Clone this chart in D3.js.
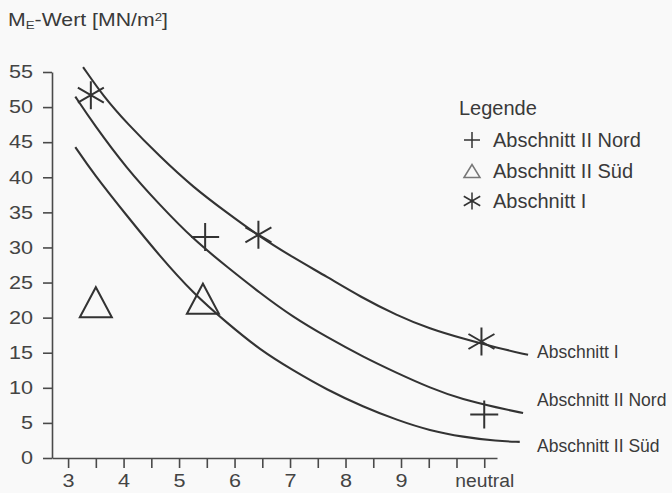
<!DOCTYPE html>
<html>
<head>
<meta charset="utf-8">
<script src="https://cdn.jsdelivr.net/npm/d3@7"></script>
<style>
  body { margin: 0; background: #f9f9f9; }
  svg { display: block; font-family: "Liberation Sans", Arial, sans-serif; }
  .axis path, .axis line { stroke: #4a4a4a; stroke-width: 1.6; }
  .axis text { fill: #444; font-size: 18px; }
</style>
</head>
<body>
<svg width="672" height="493"></svg>
<script>
// Data
var xTicks = [3, 3.5, 4, 4.5, 5, 5.5, 6, 6.5, 7, 7.5, 8, 8.5, 9, 9.5, 10, 10.5];
var xTickLabels = {3: "3", 4: "4", 5: "5", 6: "6", 7: "7", 8: "8", 9: "9", 10.5: "neutral"};
var yTicks = [0, 5, 10, 15, 20, 25, 30, 35, 40, 45, 50, 55];

// fitted curves
var curveIx = [3.27, 3.64, 4.06, 4.66, 5.25, 5.87, 6.46, 7.05, 7.67, 8.26, 8.93, 9.52, 10.12, 10.73, 11.29];
var curveIy = [55.7, 51.5, 47.7, 42.9, 38.6, 34.9, 31.5, 28.6, 25.8, 23.0, 20.3, 18.4, 17.0, 15.7, 14.7];
var curveNordx = [3.13, 3.45, 4.06, 4.66, 5.25, 5.87, 6.46, 7.05, 7.67, 8.32, 8.93, 9.52, 10.12, 10.73, 11.2];
var curveNordy = [51.5, 47.7, 41.2, 36.0, 31.2, 27.2, 23.5, 20.1, 17.2, 14.4, 12.1, 10.0, 8.3, 7.2, 6.4];
var curveSuedx = [3.13, 3.45, 4.06, 4.66, 5.25, 5.87, 6.46, 7.05, 7.67, 8.32, 8.93, 9.52, 10.12, 10.73, 11.14];
var curveSuedy = [44.3, 40.6, 34.5, 28.7, 23.5, 19.2, 15.4, 12.5, 9.7, 7.3, 5.4, 3.9, 3.0, 2.4, 2.3];

// measured points
var nordX = [5.47, 10.5], nordY = [31.5, 6.2];
var suedX = [3.5, 5.43], suedY = [22.2, 22.7];
var abschnittIX = [3.41, 6.43, 10.45], abschnittIY = [51.7, 31.8, 16.6];

var curveNames = ["Abschnitt I", "Abschnitt II Nord", "Abschnitt II Süd"];
var legendNames = ["Abschnitt II Nord", "Abschnitt II Süd", "Abschnitt I"];

var svg = d3.select("svg");
var ink = "#333";

var x = d3.scaleLinear().domain([2.71, 10.73]).range([52, 497]);
var y = d3.scaleLinear().domain([0, 55]).range([458, 72]);

// axes
svg.append("g")
  .attr("class", "axis")
  .attr("transform", "translate(0,458)")
  .call(d3.axisBottom(x).tickValues(xTicks).tickSize(10).tickSizeOuter(0).tickPadding(6)
    .tickFormat(function (d) { return xTickLabels[d] || ""; }));

svg.append("g")
  .attr("class", "axis")
  .attr("transform", "translate(52,0)")
  .call(d3.axisLeft(y).tickValues(yTicks).tickSize(9).tickSizeOuter(0).tickPadding(10));

// the tick figures in the original are set wider
svg.selectAll(".axis text").each(function () {
  var w = this.getComputedTextLength();
  if (!w) return;
  var k = this.textContent === "neutral" ? 1.07 : 1.2;
  this.setAttribute("textLength", w * k);
  this.setAttribute("lengthAdjust", "spacingAndGlyphs");
});

// curves
var line = d3.line()
  .x(function (d) { return x(d[0]); })
  .y(function (d) { return y(d[1]); })
  .curve(d3.curveBasis);

var curves = [
  d3.zip(curveIx, curveIy),
  d3.zip(curveNordx, curveNordy),
  d3.zip(curveSuedx, curveSuedy)
];

svg.append("g").selectAll("path")
  .data(curves)
  .enter()
  .append("path")
    .attr("d", line)
    .attr("fill", "none")
    .attr("stroke", ink)
    .attr("stroke-width", 2.1);

// curve labels at the right
svg.append("g").selectAll("text")
  .data(curves)
  .enter()
  .append("text")
    .attr("x", 537)
    .attr("y", function (d, i) { return [358, 406, 452][i]; })
    .attr("fill", "#3a3a3a")
    .style("font-size", "17.5px")
    .text(function (d, i) { return curveNames[i]; });

// marker shapes
function plusPath(s) {
  return "M" + (-s) + ",0H" + s + "M0," + (-s) + "V" + s;
}
function triPath(w, h) {
  return "M" + (-w / 2) + "," + (h / 2) + "L0," + (-h / 2) + "L" + (w / 2) + "," + (h / 2) + "Z";
}
function starPath(v, s) {
  var a = Math.PI / 6, dx = s * Math.cos(a), dy = s * Math.sin(a);
  return "M0," + (-v) + "V" + v +
    "M" + (-dx) + "," + dy + "L" + dx + "," + (-dy) +
    "M" + (-dx) + "," + (-dy) + "L" + dx + "," + dy;
}

var marks = svg.append("g")
  .attr("fill", "none")
  .attr("stroke", ink)
  .attr("stroke-width", 2);

marks.selectAll(".nord")
  .data(d3.zip(nordX, nordY))
  .enter().append("path")
    .attr("class", "nord")
    .attr("transform", function (d) { return "translate(" + x(d[0]) + "," + y(d[1]) + ")"; })
    .attr("d", plusPath(14));

marks.selectAll(".sued")
  .data(d3.zip(suedX, suedY))
  .enter().append("path")
    .attr("class", "sued")
    .attr("transform", function (d) { return "translate(" + x(d[0]) + "," + y(d[1]) + ")"; })
    .attr("d", triPath(32, 30));

marks.selectAll(".abs1")
  .data(d3.zip(abschnittIX, abschnittIY))
  .enter().append("path")
    .attr("class", "abs1")
    .attr("transform", function (d) { return "translate(" + x(d[0]) + "," + y(d[1]) + ")"; })
    .attr("d", starPath(14, 15));

// title
var title = svg.append("text")
  .attr("x", 8)
  .attr("y", 26)
  .attr("fill", "#3a3a3a")
  .style("font-size", "17.5px");
title.append("tspan").text("M");
title.append("tspan").attr("baseline-shift", "-3").style("font-size", "11px").text("E");
title.append("tspan").text("-Wert [MN/m");
title.append("tspan").attr("baseline-shift", "5").style("font-size", "11px").text("2");
title.append("tspan").text("]");
title.attr("textLength", 160)
  .attr("lengthAdjust", "spacingAndGlyphs");

// legend
var legend = svg.append("g").attr("transform", "translate(459,0)");
legend.append("text")
  .attr("x", 0)
  .attr("y", 115)
  .attr("fill", "#3a3a3a")
  .style("font-size", "20px")
  .text("Legende");

var legendShapes = [plusPath(8), triPath(16, 13), starPath(8.5, 9.5)];
var rows = legend.selectAll(".row")
  .data(legendNames)
  .enter().append("g")
    .attr("class", "row")
    .attr("transform", function (d, i) { return "translate(0," + [147, 178, 208][i] + ")"; });

rows.append("path")
  .attr("transform", "translate(13,-7)")
  .attr("d", function (d, i) { return legendShapes[i]; })
  .attr("fill", "none")
  .attr("stroke", function (d, i) { return i === 1 ? "#777" : ink; })
  .attr("stroke-width", 1.5);

rows.append("text")
  .attr("x", 34)
  .attr("fill", "#3a3a3a")
  .style("font-size", "20px")
  .text(function (d) { return d; });
</script>
</body>
</html>
